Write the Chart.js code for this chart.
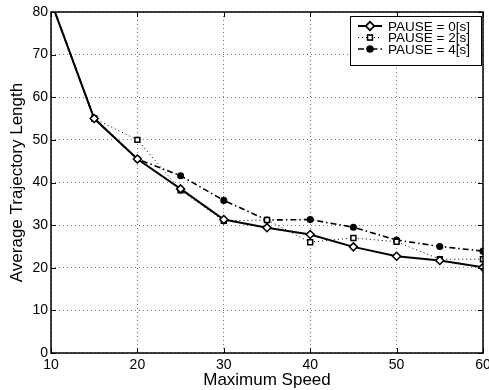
<!DOCTYPE html>
<html>
<head>
<meta charset="utf-8">
<script src="https://cdn.jsdelivr.net/npm/chart.js@4/dist/chart.umd.min.js"></script>
<style>
  html, body { margin: 0; padding: 0; background: #fff; }
  #wrap { width: 489px; height: 390px; }
</style>
</head>
<body>
<div id="wrap"><canvas id="trajChart" width="489" height="390"></canvas></div>
<script>
// values
const speeds = [10, 15, 20, 25, 30, 35, 40, 45, 50, 55, 60];
const pause0 = [82.5, 55, 45.5, 38.5, 31.3, 29.4, 27.8, 24.9, 22.7, 21.7, 20.1];
const pause2 = [82.5, 55, 50, 38.2, 31.0, 31.2, 26.0, 27.0, 26.1, 22.0, 22.0];
const pause4 = [82.5, 55, 45.5, 41.6, 35.8, 31.2, 31.3, 29.5, 26.5, 25.0, 23.9];
const seriesNames = ['PAUSE = 0[s]', 'PAUSE = 2[s]', 'PAUSE = 4[s]'];
const xTicks = [10, 20, 30, 40, 50, 60];
const yTicks = [0, 10, 20, 30, 40, 50, 60, 70, 80];

function toPoints(vals) {
    return speeds.map((s, i) => ({ x: s, y: vals[i] }));
}

const lineStyles = [
    { borderWidth: 2, borderDash: [], pointStyle: 'rectRot', pointRadius: 4, pointBackgroundColor: '#fff' },
    { borderWidth: 1, borderDash: [1, 3], pointStyle: 'rect', pointRadius: 3.5, pointBackgroundColor: '#fff' },
    { borderWidth: 1.6, borderDash: [6, 3, 1.5, 3], pointStyle: 'circle', pointRadius: 2.8, pointBackgroundColor: '#000' }
];

const datasets = [pause0, pause2, pause4].map((vals, i) => Object.assign({
    label: seriesNames[i],
    data: toPoints(vals),
    borderColor: '#000',
    pointBorderColor: '#000',
    pointBorderWidth: 1.5,
    fill: false,
    tension: 0
}, lineStyles[i]));

// frame, inward ticks and boxed legend, matlab style
const framePlugin = {
    id: 'frame',
    afterDraw(chart) {
        const { ctx, chartArea: a, scales } = chart;
        ctx.save();
        ctx.strokeStyle = '#000';
        ctx.lineWidth = 1;
        ctx.setLineDash([]);
        ctx.beginPath();
        xTicks.forEach(v => {
            const px = Math.round(scales.x.getPixelForValue(v)) + 0.5;
            ctx.moveTo(px, a.bottom); ctx.lineTo(px, a.bottom - 5);
            ctx.moveTo(px, a.top); ctx.lineTo(px, a.top + 5);
        });
        yTicks.forEach(v => {
            const py = Math.round(scales.y.getPixelForValue(v)) + 0.5;
            ctx.moveTo(a.left, py); ctx.lineTo(a.left + 5, py);
            ctx.moveTo(a.right, py); ctx.lineTo(a.right - 5, py);
        });
        ctx.stroke();
        ctx.lineWidth = 1.5;
        ctx.strokeRect(a.left, a.top, a.right - a.left, a.bottom - a.top);

        // legend box
        const bx = 350, by = 16, bw = 131, bh = 49;
        ctx.fillStyle = '#fff';
        ctx.fillRect(bx, by, bw, bh);
        ctx.lineWidth = 1;
        ctx.strokeRect(bx + 0.5, by + 0.5, bw, bh);
        ctx.font = '13.5px "Liberation Sans", Arial, sans-serif';
        ctx.textBaseline = 'middle';
        ctx.textAlign = 'left';
        chart.data.datasets.forEach((ds, i) => {
            const y = by + 10 + i * 11.5;
            ctx.strokeStyle = '#000';
            ctx.lineWidth = ds.borderWidth;
            ctx.setLineDash(ds.borderDash);
            ctx.beginPath();
            ctx.moveTo(358, y); ctx.lineTo(382, y);
            ctx.stroke();
            ctx.setLineDash([]);
            Chart.helpers.drawPoint(ctx, {
                pointStyle: ds.pointStyle,
                radius: ds.pointRadius,
                borderWidth: 1.5
            }, 370, y);
            ctx.fillStyle = ds.pointBackgroundColor;
            ctx.lineWidth = 1.5;
            ctx.fill();
            ctx.stroke();
            ctx.fillStyle = '#000';
            ctx.fillText(ds.label, 388, y + 1);
        });
        ctx.restore();
    }
};

const tickFont = { family: '"Liberation Sans", Arial, sans-serif', size: 14 };
const titleFont = { family: '"Liberation Sans", Arial, sans-serif', size: 17, lineHeight: 1 };

const config = {
    type: 'line',
    data: { datasets: datasets },
    options: {
        responsive: false,
        animation: false,
        layout: { padding: { top: 12, right: 6, left: 0, bottom: 0 } },
        plugins: {
            legend: { display: false },
            tooltip: { enabled: false }
        },
        scales: {
            x: {
                type: 'linear',
                min: 10,
                max: 60,
                afterBuildTicks: s => { s.ticks = xTicks.map(v => ({ value: v })); },
                afterFit: s => { s.height = 37; s.paddingLeft = 0; s.paddingRight = 0; },
                ticks: { color: '#000', font: tickFont, padding: 4, maxRotation: 0 },
                grid: { color: '#777', drawTicks: false, lineWidth: 1 },
                border: { display: false, dash: [1, 3] },
                title: { display: true, text: 'Maximum Speed', color: '#000', font: titleFont, padding: { top: 0, bottom: 1 } }
            },
            y: {
                min: 0,
                max: 80,
                afterBuildTicks: s => { s.ticks = yTicks.map(v => ({ value: v })); },
                afterFit: s => { s.width = 51; s.paddingTop = 0; s.paddingBottom = 0; },
                ticks: { color: '#000', font: tickFont, padding: 3 },
                grid: { color: '#777', drawTicks: false, lineWidth: 1 },
                border: { display: false, dash: [1, 3] },
                title: { display: true, text: 'Average Trajectory Length', color: '#000', font: titleFont, padding: { top: 9, bottom: 0 } }
            }
        }
    },
    plugins: [framePlugin]
};

const trajChart = new Chart(document.getElementById('trajChart'), config);
</script>
</body>
</html>
